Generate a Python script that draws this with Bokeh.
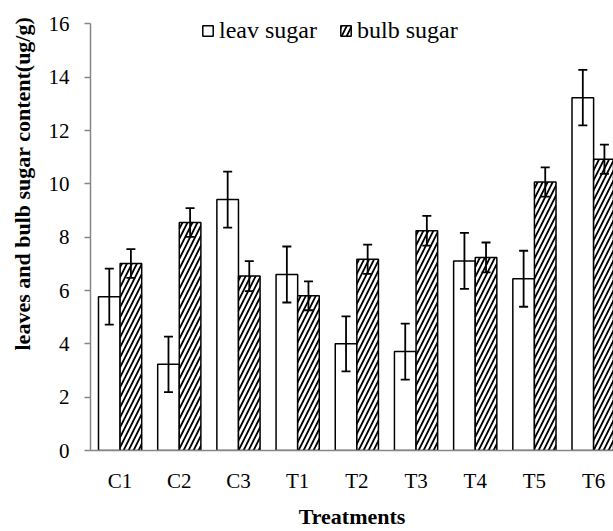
import numpy as np
from bokeh.plotting import figure
from bokeh.models import (ColumnDataSource, Whisker, TeeHead, FixedTicker, Range1d,
                          Legend, LegendItem, Title)
from bokeh.embed import file_html
from bokeh.resources import INLINE

# ---- data ----
categories = ["C1", "C2", "C3", "T1", "T2", "T3", "T4", "T5", "T6"]
leaf_sugar = [5.77, 3.23, 9.41, 6.60, 4.00, 3.71, 7.11, 6.44, 13.23]
leaf_err = [1.05, 1.04, 1.05, 1.05, 1.03, 1.05, 1.05, 1.05, 1.04]
bulb_sugar = [7.01, 8.55, 6.54, 5.80, 7.17, 8.24, 7.24, 10.07, 10.92]
bulb_err = [0.54, 0.54, 0.56, 0.54, 0.55, 0.56, 0.56, 0.55, 0.55]
y_ticks = [0, 2, 4, 6, 8, 10, 12, 14, 16]

FONT = "Liberation Serif"
BAR_W = 0.365
AXIS_GRAY = "#868686"

idx = np.arange(len(categories))
leaf = np.array(leaf_sugar)
leafe = np.array(leaf_err)
bulb = np.array(bulb_sugar)
bulbe = np.array(bulb_err)

leaf_src = ColumnDataSource(dict(x=idx - BAR_W / 2, top=leaf,
                                 upper=leaf + leafe, lower=leaf - leafe))
bulb_src = ColumnDataSource(dict(x=idx + BAR_W / 2, top=bulb,
                                 upper=bulb + bulbe, lower=bulb - bulbe))

p = figure(width=613, height=531, output_backend="svg", toolbar_location=None,
           x_range=Range1d(-0.5, 8.336), y_range=Range1d(0, 16.8),
           min_border_left=89, min_border_right=0, min_border_top=2,
           min_border_bottom=77)
p.outline_line_color = None
p.grid.visible = False
p.background_fill_color = "white"
p.border_fill_color = "white"

r1 = p.vbar(x="x", top="top", width=BAR_W, source=leaf_src,
            fill_color="white", line_color="black", line_width=1.5)
r2 = p.vbar(x="x", top="top", width=BAR_W, source=bulb_src,
            fill_color="white", line_color="black", line_width=1.5,
            hatch_pattern="/", hatch_color="black", hatch_scale=10,
            hatch_weight=1.8)

for src in (leaf_src, bulb_src):
    wk = Whisker(base="x", upper="upper", lower="lower", source=src,
                 line_color="black", line_width=1.8, level="annotation",
                 upper_head=TeeHead(size=9, line_color="black", line_width=1.8),
                 lower_head=TeeHead(size=9, line_color="black", line_width=1.8))
    p.add_layout(wk)

# x axis
p.xaxis.ticker = FixedTicker(ticks=[int(i) for i in idx])
p.xaxis.major_label_overrides = {int(i): c for i, c in zip(idx, categories)}
p.xaxis.major_tick_out = 0
p.xaxis.major_tick_in = 0
p.xaxis.minor_tick_out = 0
p.xaxis.minor_tick_in = 0
p.xaxis.axis_line_color = AXIS_GRAY
p.xaxis.axis_line_width = 1.5
p.xaxis.major_label_text_font = FONT
p.xaxis.major_label_text_font_size = "21px"
p.xaxis.major_label_text_color = "black"
p.xaxis.major_label_standoff = 18
p.xaxis.axis_label = "Treatments"
p.xaxis.axis_label_text_font = FONT
p.xaxis.axis_label_text_font_size = "22px"
p.xaxis.axis_label_text_font_style = "bold"
p.xaxis.axis_label_text_color = "black"
p.xaxis.axis_label_standoff = 8

# y axis
p.yaxis.ticker = FixedTicker(ticks=y_ticks)
p.yaxis.bounds = (0, 16)
p.yaxis.major_tick_out = 6
p.yaxis.major_tick_in = 0
p.yaxis.minor_tick_out = 0
p.yaxis.minor_tick_in = 0
p.yaxis.major_tick_line_color = AXIS_GRAY
p.yaxis.major_tick_line_width = 1.5
p.yaxis.axis_line_color = AXIS_GRAY
p.yaxis.axis_line_width = 1.5
p.yaxis.major_label_text_font = FONT
p.yaxis.major_label_text_font_size = "21px"
p.yaxis.major_label_text_color = "black"
p.yaxis.major_label_standoff = 15

ytitle = Title(text="leaves and bulb sugar content(ug/g)", align="left",
               vertical_align="top", offset=100, standoff=18,
               text_font=FONT, text_font_size="22px",
               text_font_style="bold", text_color="black")
p.add_layout(ytitle, "left")

legend = Legend(items=[LegendItem(label="leav sugar", renderers=[r1]),
                       LegendItem(label="bulb sugar", renderers=[r2])],
                orientation="horizontal", location=(111, 406),
                border_line_color=None, background_fill_alpha=0,
                padding=0, margin=0, spacing=22, label_standoff=5,
                glyph_width=13, glyph_height=13,
                label_text_font=FONT, label_text_font_size="24px",
                label_text_color="black")
p.add_layout(legend)

open("out.html", "w").write(file_html(p, INLINE))
